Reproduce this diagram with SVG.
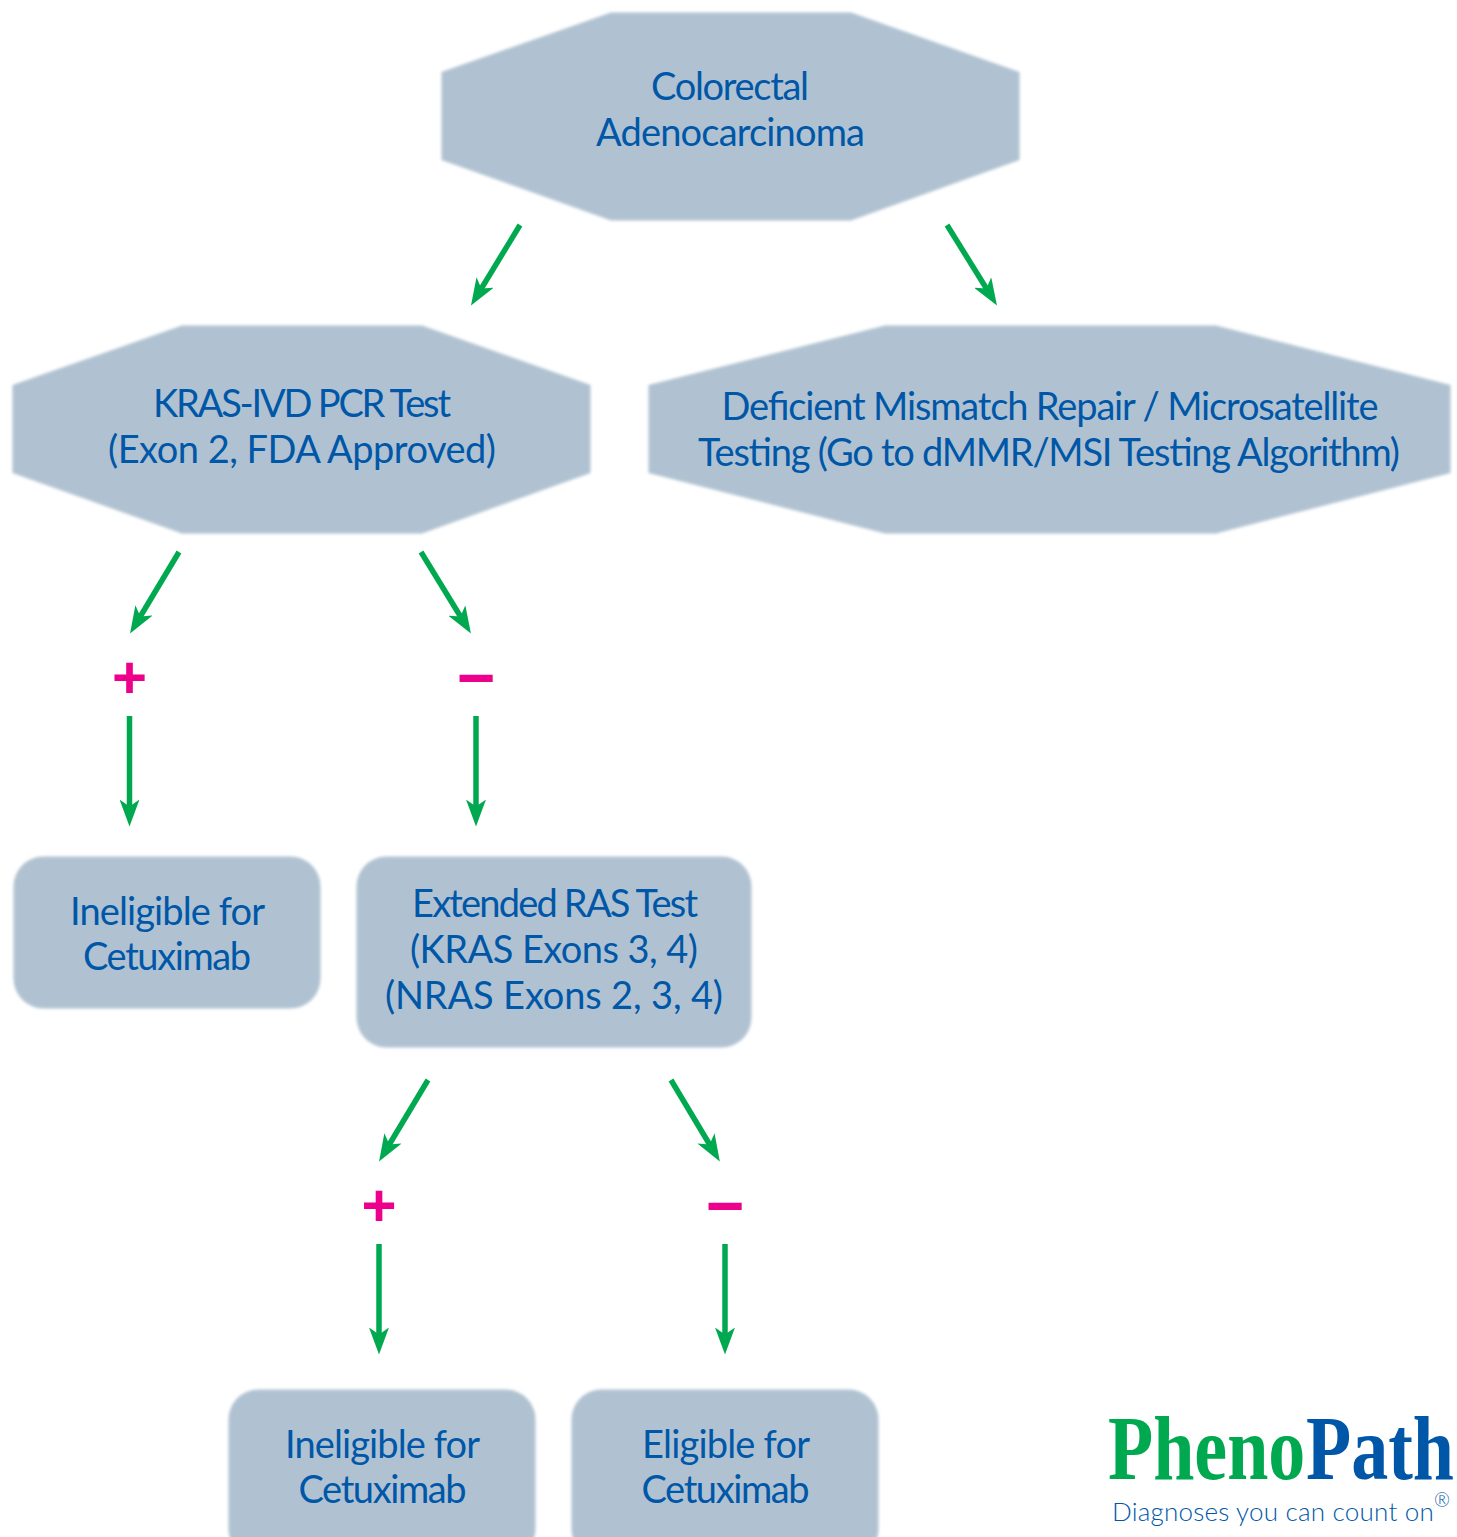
<svg xmlns="http://www.w3.org/2000/svg" width="1457" height="1537" viewBox="0 0 1457 1537">
<style>
.shape{fill:#b0c2d1;filter:url(#soft)}
.t{font-family:"Lato","Noto Sans",sans-serif;font-size:38px;fill:#0057a8;text-anchor:middle}
.sign{font-family:"Liberation Sans",Arial,sans-serif;font-weight:700;fill:#ec008c;text-anchor:middle}
.c{stroke:#00a94f;stroke-width:5.5;fill:none;marker-end:url(#head)}
.logo{font-family:"Liberation Serif","Times New Roman",serif;font-size:74px;font-weight:700}
.tag{font-family:"Lato","Noto Sans",sans-serif;font-weight:300;fill:#0057a8}
</style>
<defs>
<filter id="soft" x="-5%" y="-5%" width="110%" height="110%"><feGaussianBlur stdDeviation="1.8"/></filter>
<marker id="head" markerUnits="userSpaceOnUse" viewBox="0 0 27 20" refX="17" refY="10" markerWidth="27" markerHeight="20" orient="auto"><path d="M0,0L27,10L0,20L7,10Z" fill="#00a94f"/></marker>
</defs>
<rect width="1457" height="1537" fill="#fff"/>
<g id="connectors">
<path class="c" d="M520,225L476.2,297"/>
<path class="c" d="M947,225L991.7,297"/>
<path class="c" d="M179,552L135.2,625"/>
<path class="c" d="M421,552L465.7,625"/>
<path class="c" d="M129.5,716V816.5"/>
<path class="c" d="M476,716V816.5"/>
<path class="c" d="M428,1080L384.2,1153"/>
<path class="c" d="M671,1080L714.7,1153"/>
<path class="c" d="M379,1244V1344.5"/>
<path class="c" d="M725,1244V1344.5"/>
</g>
<g id="node-colorectal">
<polygon class="shape" points="611,12.5 851,12.5 1019.5,72 1019.5,160 851,220.5 611,220.5 441.5,160 441.5,72"/>
<text class="t" x="730" y="100" textLength="158">Colorectal</text>
<text class="t" x="730.5" y="146" textLength="269">Adenocarcinoma</text>
</g>
<g id="node-kras">
<polygon class="shape" points="182,325.5 422,325.5 590.5,385 590.5,473 422,533.5 182,533.5 12.5,473 12.5,385"/>
<text class="t" x="302" y="417" textLength="298">KRAS-IVD PCR Test</text>
<text class="t" x="302" y="463" textLength="388">(Exon 2, FDA Approved)</text>
</g>
<g id="node-dmmr">
<polygon class="shape" points="885,325.5 1216,325.5 1450.5,385 1450.5,473 1216,533.5 885,533.5 648.5,473 648.5,385"/>
<text class="t" x="1050" y="420" textLength="657">Deficient Mismatch Repair / Microsatellite</text>
<text class="t" x="1049" y="466" textLength="702">Testing (Go to dMMR/MSI Testing Algorithm)</text>
</g>
<g id="sign-plus-1"><text class="sign" x="129.5" y="698" font-size="60">+</text></g>
<g id="sign-minus-1"><text class="sign" x="476" y="700" font-size="66">−</text></g>
<g id="node-ineligible-1">
<rect class="shape" x="13.5" y="856.5" width="307" height="152" rx="30"/>
<text class="t" x="167.5" y="925" textLength="195">Ineligible for</text>
<text class="t" x="167" y="970" textLength="168">Cetuximab</text>
</g>
<g id="node-extended">
<rect class="shape" x="356.5" y="856.5" width="395" height="191" rx="30"/>
<text class="t" x="555" y="917" textLength="286">Extended RAS Test</text>
<text class="t" x="554" y="963" textLength="288">(KRAS Exons 3, 4)</text>
<text class="t" x="554" y="1009" textLength="338">(NRAS Exons 2, 3, 4)</text>
</g>
<g id="sign-plus-2"><text class="sign" x="379" y="1226" font-size="60">+</text></g>
<g id="sign-minus-2"><text class="sign" x="725" y="1228" font-size="66">−</text></g>
<g id="node-ineligible-2">
<rect class="shape" x="228.5" y="1389.5" width="307" height="170" rx="30"/>
<text class="t" x="382.5" y="1458" textLength="195">Ineligible for</text>
<text class="t" x="382.5" y="1503" textLength="168">Cetuximab</text>
</g>
<g id="node-eligible">
<rect class="shape" x="571.5" y="1389.5" width="307" height="170" rx="30"/>
<text class="t" x="726" y="1458" textLength="168">Eligible for</text>
<text class="t" x="725.5" y="1503" textLength="168">Cetuximab</text>
</g>
<g id="logo">
<text class="logo" transform="translate(1108,1479) scale(1,1.243)" fill="#00a94f">Pheno</text>
<text class="logo" transform="translate(1306,1479) scale(1,1.243)" fill="#0057a8">Path</text>
<text class="tag" x="1112" y="1521" font-size="26" textLength="338">Diagnoses you can count on<tspan dy="-14" font-size="19">®</tspan></text>
</g>
</svg>
